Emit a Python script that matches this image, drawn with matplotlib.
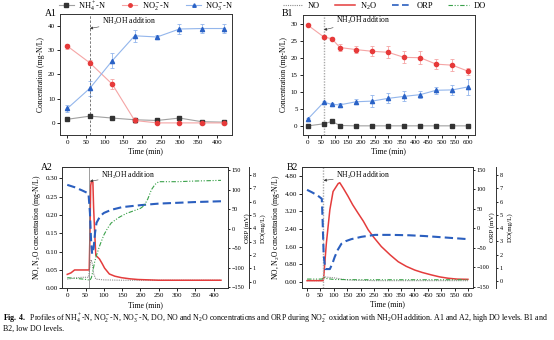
import matplotlib
matplotlib.use('Agg')
import matplotlib.pyplot as plt
from matplotlib.lines import Line2D

plt.rcParams['font.family'] = ['Liberation Serif', 'DejaVu Serif']
plt.rcParams['mathtext.fontset'] = 'custom'
plt.rcParams['mathtext.rm'] = 'Liberation Serif'
plt.rcParams['mathtext.it'] = 'Liberation Serif:italic'
plt.rcParams['mathtext.bf'] = 'Liberation Serif:bold'
plt.rcParams['axes.linewidth'] = 0.7
plt.rcParams['xtick.major.width'] = 0.6
plt.rcParams['ytick.major.width'] = 0.6
plt.rcParams['xtick.major.size'] = 2
plt.rcParams['ytick.major.size'] = 2
plt.rcParams['xtick.major.pad'] = 1.5
plt.rcParams['ytick.major.pad'] = 1.5

# ---- A1: high DO, batch concentrations ----
a1_time = [0, 60, 120, 180, 240, 300, 360, 420]
a1_nh4 = [1.5, 2.8, 2.0, 1.3, 1.0, 2.0, 0.5, 0.3]
a1_nh4_err = [0.3, 0.4, 0.3, 0.3, 0.3, 0.4, 0.3, 0.3]
a1_no2 = [31.7, 24.8, 16.0, 1.0, 0.0, 0.0, 0.0, 0.0]
a1_no2_err = [1.0, 1.0, 2.0, 1.0, 0.3, 0.3, 0.3, 0.3]
a1_no3 = [6.0, 14.3, 25.7, 36.0, 35.5, 38.8, 39.0, 39.0]
a1_no3_err = [1.5, 3.0, 3.0, 2.5, 1.0, 2.0, 2.0, 2.0]

# ---- B1: low DO, batch concentrations ----
b1_time = [0, 60, 90, 120, 180, 240, 300, 360, 420, 480, 540, 600]
b1_nh4 = [0.0, 0.6, 1.3, 0.1, 0.0, 0.0, 0.0, 0.0, 0.0, 0.0, 0.0, 0.0]
b1_nh4_err = [0.1, 0.2, 0.2, 0.1, 0.1, 0.1, 0.1, 0.1, 0.1, 0.1, 0.1, 0.1]
b1_no2 = [29.7, 26.2, 25.7, 23.1, 22.5, 22.0, 21.7, 20.2, 20.1, 18.2, 17.9, 16.1]
b1_no2_err = [0.3, 0.5, 0.5, 1.0, 1.0, 1.5, 1.8, 1.8, 2.0, 1.5, 1.8, 1.0]
b1_no3 = [2.0, 7.0, 6.3, 6.2, 7.1, 7.3, 8.1, 8.7, 9.2, 10.5, 10.6, 11.5]
b1_no3_err = [0.3, 0.3, 0.3, 0.5, 0.8, 1.7, 1.5, 1.5, 1.0, 1.0, 1.5, 2.3]

# ---- A2: online signals, high DO ----
a2_no_t = [0, 20, 40, 58, 62, 65, 68, 72, 78, 100, 150, 250, 420]
a2_no = [0.025, 0.028, 0.030, 0.030, 0.060, 0.078, 0.070, 0.040, 0.025, 0.023, 0.022, 0.022, 0.022]
a2_n2o_t = [0, 10, 20, 40, 60, 62, 64, 66, 70, 72, 75, 78, 82, 88, 95, 102, 115, 130, 148, 170, 193, 250, 420]
a2_n2o = [0.038, 0.042, 0.050, 0.050, 0.050, 0.150, 0.280, 0.292, 0.290, 0.220, 0.150, 0.090,
          0.086, 0.080, 0.068, 0.055, 0.039, 0.033, 0.029, 0.026, 0.024, 0.022, 0.022]
a2_orp_t = [0, 20, 40, 58, 62, 65, 68, 72, 76, 80, 90, 100, 120, 150, 180, 200, 250, 300, 350, 420]
a2_orp = [112, 106, 98, 90, 40, -30, -65, -50, -10, 15, 32, 40, 48, 55, 58, 60, 64, 66, 68, 70]
a2_do_t = [0, 20, 40, 55, 62, 66, 70, 75, 80, 90, 100, 110, 120, 140, 160, 180, 200, 210, 220,
           230, 240, 250, 300, 350, 420]
a2_do = [0.3, 0.25, 0.2, 0.15, 0.1, 0.3, 0.8, 1.5, 2.0, 2.8, 3.5, 4.0, 4.4, 4.8, 5.1, 5.3, 5.5,
         5.7, 6.2, 6.9, 7.3, 7.5, 7.5, 7.55, 7.6]

# ---- B2: online signals, low DO ----
b2_no_t = [0, 55, 60, 65, 100, 150, 250, 600]
b2_no = [0.05, 0.05, 0.12, 0.22, 0.18, 0.08, 0.05, 0.05]
b2_n2o_t = [0, 30, 60, 62, 72, 85, 97, 116, 122, 135, 153, 170, 190, 210, 228, 250, 277, 310,
            340, 370, 402, 430, 464, 495, 526, 560, 600]
b2_n2o = [0.05, 0.05, 0.05, 0.2, 1.75, 3.27, 4.1, 4.46, 4.5, 4.25, 3.88, 3.5, 3.12, 2.75, 2.36,
          2.0, 1.6, 1.22, 0.91, 0.70, 0.53, 0.42, 0.31, 0.22, 0.16, 0.12, 0.11]
b2_orp_t = [0, 20, 40, 55, 58, 62, 68, 85, 95, 103, 115, 128, 145, 165, 203, 253, 315, 380, 439, 520, 600]
b2_orp = [99, 92, 84, 76, 20, -70, -105, -105, -90, -74, -55, -40, -33, -28, -22, -17, -17, -18, -20, -24, -28]
b2_do_t = [0, 55, 62, 70, 100, 200, 400, 600]
b2_do = [0.15, 0.15, 0.3, 0.2, 0.12, 0.1, 0.1, 0.1]

nh4_dark, nh4_light = '#333333', '#a0a0a0'
no2_dark, no2_light = '#e63a3a', '#f5a5a5'
no3_dark, no3_light = '#2a62c6', '#93b6ec'
no_col, n2o_col, orp_col, do_col = '#8c8c8c', '#e43c3c', '#2b5fbf', '#3aa14a'

W, H = 554, 340


def box(l, t, r, b):
    return [l / W, 1 - b / H, (r - l) / W, (b - t) / H]


def style_axis(ax, size=5):
    ax.tick_params(labelsize=size, direction='out')
    for s in ax.spines.values():
        s.set_color('#333333')


def plot_series(ax, t, y, e, dark, light, marker):
    ax.errorbar(t, y, yerr=e, color=light, lw=0.8, marker=marker, ms=3,
                mfc=dark, mec=dark, ecolor=light, elinewidth=0.6, capsize=1.2, capthick=0.6)


fig = plt.figure(figsize=(W / 100, H / 100), dpi=100)

# A1
ax = fig.add_axes(box(60, 14, 231.7, 135))
plot_series(ax, a1_time, a1_nh4, a1_nh4_err, nh4_dark, nh4_light, 's')
plot_series(ax, a1_time, a1_no2, a1_no2_err, no2_dark, no2_light, 'o')
plot_series(ax, a1_time, a1_no3, a1_no3_err, no3_dark, no3_light, '^')
ax.axvline(60, color='#666666', lw=0.6, ls=(0, (3, 2)))
ax.annotate('NH$_2$OH addition', xy=(60, 39), xytext=(92, 42), fontsize=5.5, va='center',
            arrowprops=dict(arrowstyle='-|>', color='#333333', lw=0.4, mutation_scale=4, shrinkA=0, shrinkB=0))
ax.set_xlim(-20, 440)
ax.set_ylim(-5, 45)
ax.set_xticks(range(0, 401, 50))
ax.set_yticks(range(0, 41, 10))
ax.set_xlabel('Time (min)', fontsize=5.5, labelpad=2)
ax.set_ylabel('Concentration (mg-N/L)', fontsize=5.5, labelpad=2)
style_axis(ax)

# B1
ax = fig.add_axes(box(302.5, 15, 475, 135))
plot_series(ax, b1_time, b1_nh4, b1_nh4_err, nh4_dark, nh4_light, 's')
plot_series(ax, b1_time, b1_no2, b1_no2_err, no2_dark, no2_light, 'o')
plot_series(ax, b1_time, b1_no3, b1_no3_err, no3_dark, no3_light, '^')
ax.axvline(60, color='#aaaaaa', lw=1.0, ls=(0, (1, 1)))
ax.annotate('NH$_2$OH addition', xy=(60, 28.3), xytext=(105, 31.1), fontsize=5.5, va='center',
            arrowprops=dict(arrowstyle='-|>', color='#333333', lw=0.4, mutation_scale=4, shrinkA=0, shrinkB=0))
ax.set_xlim(-20, 625)
ax.set_ylim(-2.7, 32.7)
ax.set_xticks(range(0, 601, 50))
ax.set_yticks(range(0, 31, 5))
ax.set_xlabel('Time (min)', fontsize=5.5, labelpad=2)
ax.set_ylabel('Concentration (mg-N/L)', fontsize=5.5, labelpad=2)
style_axis(ax)


def online_panel(rect, xlim, ylim, yticks, yfmt, xmax, data, ann, vstyle, do_offset):
    ax = fig.add_axes(box(*rect))
    ax2 = ax.twinx()
    ax3 = ax.twinx()
    width = rect[2] - rect[0]
    ax3.spines['right'].set_position(('axes', 1 + do_offset / width))
    no_t, no, n2o_t, n2o, orp_t, orp, do_t, do = data
    ax.plot(no_t, no, color=no_col, lw=0.8, ls=(0, (1, 1)))
    ax.plot(n2o_t, n2o, color=n2o_col, lw=1.1)
    ax2.plot(orp_t, orp, color=orp_col, lw=1.5, ls=(0, (4, 2)))
    ax3.plot(do_t, do, color=do_col, lw=0.8, ls=(0, (4, 1.5, 1, 1.5, 1, 1.5)))
    ax.axvline(60, **vstyle)
    ax.annotate('NH$_2$OH addition', xy=ann[0], xytext=ann[1], fontsize=5.5, va='center',
                arrowprops=dict(arrowstyle='-|>', color='#333333', lw=0.4, mutation_scale=4, shrinkA=0, shrinkB=0))
    ax.set_xlim(*xlim)
    ax.set_ylim(*ylim)
    ax.set_xticks(range(0, xmax + 1, 50))
    ax.set_yticks(yticks)
    ax.set_yticklabels([yfmt % v for v in yticks])
    ax2.set_ylim(-153, 157)
    ax2.set_yticks(range(-150, 151, 50))
    ax3.set_ylim(-0.5, 8.58)
    ax3.set_yticks(range(0, 9))
    ax.set_xlabel('Time (min)', fontsize=5.5, labelpad=2)
    ax.set_ylabel('NO, N$_2$O concentration (mg-N/L)', fontsize=5.5, labelpad=2)
    ax2.set_ylabel('ORP (mV)', fontsize=5, labelpad=0)
    ax3.set_ylabel('DO(mg/L)', fontsize=5, labelpad=3)
    style_axis(ax)
    style_axis(ax2, 4.5)
    style_axis(ax3, 4.5)
    ax2.tick_params(length=1.5, pad=1)
    ax3.tick_params(length=1.5, pad=1)
    return ax


online_panel((62.5, 167.3, 228.3, 288.3), (-13, 440), (0, 0.33),
             [0, 0.05, 0.10, 0.15, 0.20, 0.25, 0.30], '%.2f', 400,
             (a2_no_t, a2_no, a2_n2o_t, a2_n2o, a2_orp_t, a2_orp, a2_do_t, a2_do),
             ((62, 0.292), (92, 0.309)), dict(color='#777777', lw=0.5), 21)
online_panel((301.7, 167.3, 473.3, 287.7), (-20, 620), (-0.27, 5.2),
             [0, 0.8, 1.6, 2.4, 3.2, 4.0, 4.8], '%.2f', 600,
             (b2_no_t, b2_no, b2_n2o_t, b2_n2o, b2_orp_t, b2_orp, b2_do_t, b2_do),
             ((62, 4.6), (108, 4.84)), dict(color='#aaaaaa', lw=1.0, ls=(0, (1, 1))), 23)

# legends
h1 = [Line2D([], [], color=nh4_light, lw=0.8, marker='s', ms=2.5, mfc=nh4_dark, mec=nh4_dark),
      Line2D([], [], color=no2_light, lw=0.8, marker='o', ms=2.5, mfc=no2_dark, mec=no2_dark),
      Line2D([], [], color=no3_light, lw=0.8, marker='^', ms=2.5, mfc=no3_dark, mec=no3_dark)]
fig.legend(h1, ['NH$_4^+$-N', 'NO$_2^-$-N', 'NO$_3^-$-N'], loc='center', bbox_to_anchor=(146 / W, 1 - 6 / H),
           ncol=3, frameon=False, fontsize=6, handlelength=1.8, columnspacing=2.0, handletextpad=0.5)
h2 = [Line2D([], [], color=no_col, lw=0.8, ls=(0, (1, 1))),
      Line2D([], [], color=n2o_col, lw=1.1),
      Line2D([], [], color=orp_col, lw=1.2, ls=(0, (4, 2))),
      Line2D([], [], color=do_col, lw=0.8, ls=(0, (4, 1.5, 1, 1.5, 1, 1.5)))]
fig.legend(h2, ['NO', 'N$_2$O', 'ORP', 'DO'], loc='center', bbox_to_anchor=(384 / W, 1 - 6 / H),
           ncol=4, frameon=False, fontsize=6, handlelength=2.5, columnspacing=1.8, handletextpad=0.5)

# panel labels
for lab, x, y in [('A1', 45, 14), ('B1', 282, 14), ('A2', 41, 167), ('B2', 287, 167)]:
    fig.text(x / W, 1 - y / H, lab, fontsize=7, ha='left', va='center')

# caption
fig.text(3 / W, 1 - 318 / H,
         r'$\mathbf{Fig.\ 4.}$  Profiles of NH$_4^+$-N, NO$_2^-$-N, NO$_3^-$-N, DO, NO and N$_2$O concentrations '
         r'and ORP during NO$_2^-$ oxidation with NH$_2$OH addition. A1 and A2, high DO levels. B1 and',
         fontsize=5.7, ha='left', va='center')
fig.text(3 / W, 1 - 329 / H, 'B2, low DO levels.', fontsize=5.7, ha='left', va='center')

fig.savefig('out.png', dpi=100)
